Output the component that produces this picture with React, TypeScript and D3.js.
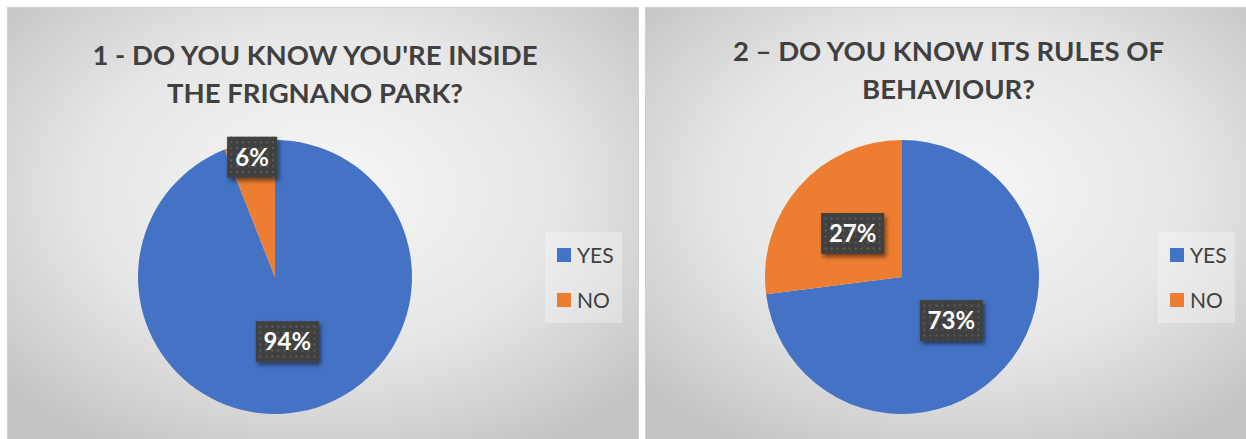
import React from 'react';
import * as d3 from 'd3';

// answers per question, in percent
const answers = ['YES', 'NO'];
const q1Values = [94, 6];
const q2Values = [73, 27];
const q1Title = ["1 - DO YOU KNOW YOU'RE INSIDE", 'THE FRIGNANO PARK?'];
const q2Title = ['2 \u2013 DO YOU KNOW ITS RULES OF', 'BEHAVIOUR?'];

const colors = d3.scaleOrdinal<string, string>().domain(answers).range(['#4472c4', '#ed7d31']);

const W = 1246;
const H = 439;
const R = 137;
const FONT = 'Lato, "Open Sans", sans-serif';

interface PanelProps {
  id: string;
  x: number;
  width: number;
  cx: number;
  titleX: number;
  titleY: number[];
  legendX: number;
  title: string[];
  values: number[];
}

function Panel({ id, x, width, cx, titleX, titleY, legendX, title, values }: PanelProps) {
  const cy = 277;
  const data = answers.map((a, i) => ({ label: a, value: values[i] }));
  const pie = d3.pie<{ label: string; value: number }>().sort(null).value(d => d.value);
  const arcs = pie(data);
  const arc = d3.arc<d3.PieArcDatum<{ label: string; value: number }>>().innerRadius(0).outerRadius(R);
  const total = d3.sum(values);

  return (
    <g>
      <rect x={x} y={7.5} width={width} height={H} fill={`url(#bg-${id})`} stroke="#d0d0d0" strokeWidth={1} />
      <g fontFamily={FONT} fontWeight={700} fontSize={27.5} fill="#404040" textAnchor="middle">
        {title.map((t, i) => (
          <text key={i} x={titleX} y={titleY[i]}>{t}</text>
        ))}
      </g>
      <g transform={`translate(${cx},${cy})`}>
        {arcs.map((a, i) => (
          <path key={i} d={arc(a) ?? ''} fill={colors(a.data.label)} />
        ))}
        {arcs.map((a, i) => {
          const frac = a.data.value / total;
          const mid = (a.startAngle + a.endAngle) / 2;
          const lr = frac < 0.1 ? R * 0.89 : R * 0.48;
          const lx = Math.sin(mid) * lr;
          const ly = -Math.cos(mid) * lr;
          const txt = `${a.data.value}%`;
          const bw = txt.length === 2 ? 50 : 63;
          const bh = 41;
          return (
            <g key={'l' + i} transform={`translate(${lx},${ly})`}>
              <g filter="url(#shadow)">
                <rect x={-bw / 2} y={-bh / 2} width={bw} height={bh} fill="#404040" />
              </g>
              <rect x={-bw / 2} y={-bh / 2} width={bw} height={bh} fill="url(#dots)" />
              <text y={8.5} textAnchor="middle" fill="#ffffff" fontFamily={FONT} fontWeight={700} fontSize={24}>{txt}</text>
            </g>
          );
        })}
      </g>
      <rect x={legendX} y={232} width={77} height={91} fill="#ffffff" fillOpacity={0.3} />
      {answers.map((a, i) => (
        <g key={a} transform={`translate(${legendX + 12},${248 + i * 45})`}>
          <rect width={14} height={14} fill={colors(a)} />
          <text x={20} y={15} fontFamily={FONT} fontSize={21} fill="#404040">{a}</text>
        </g>
      ))}
    </g>
  );
}

export default function App() {
  return (
    <svg width={W} height={H} style={{ position: 'absolute', left: 0, top: 0, background: '#ffffff' }}>
      <defs>
        {['a', 'b'].map(k => (
          <radialGradient key={k} id={`bg-${k}`} cx="50%" cy="42%" r="68%">
            <stop offset="0%" stopColor="#f7f7f7" />
            <stop offset="55%" stopColor="#e6e6e6" />
            <stop offset="100%" stopColor="#c3c3c3" />
          </radialGradient>
        ))}
        <pattern id="dots" width={6} height={6} patternUnits="userSpaceOnUse">
          <rect x={2} y={2} width={2} height={2} fill="#5c5c5c" />
        </pattern>
        <filter id="shadow" x="-30%" y="-30%" width="160%" height="170%">
          <feDropShadow dx={2} dy={3} stdDeviation={2} floodColor="#000" floodOpacity={0.5} />
        </filter>
      </defs>
      <Panel id="a" x={7.5} width={631} cx={275} titleX={315} titleY={[65, 103]} legendX={545}
        title={q1Title} values={q1Values} />
      <Panel id="b" x={645.5} width={620} cx={902} titleX={948.5} titleY={[61, 99]} legendX={1158}
        title={q2Title} values={q2Values} />
    </svg>
  );
}
